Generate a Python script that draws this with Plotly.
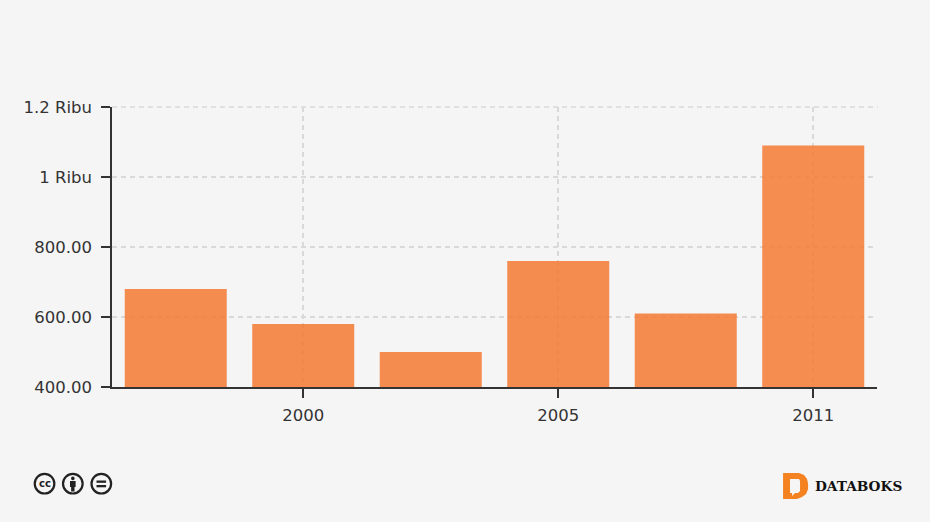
import plotly.graph_objects as go

# values; only 2000, 2005 and 2011 are labelled in the original
categories = ["a", "2000", "b", "2005", "c", "2011"]
values = [680, 580, 500, 760, 610, 1090]
x_ticks = ["2000", "2005", "2011"]
y_ticks = [400, 600, 800, 1000, 1200]
y_labels = ["400.00", "600.00", "800.00", "1 Ribu", "1.2 Ribu"]

BG = "#f5f5f5"
INK = "#333333"
ICON = "#222222"
ORANGE = "#f58220"
FONT = "DejaVu Sans"
GRID = "#d9d9d9"
DASH = "5px,4px"
W, H = 930, 522
L, R, T, B = 111.5, 877, 107, 387


def px(x):
    return (x - L) / (R - L)


def py(y):
    return (B - y) / (B - T)


def circle(cx, cy, r, **kw):
    return dict(type="circle", xref="paper", yref="paper",
                x0=px(cx - r), x1=px(cx + r), y0=py(cy + r), y1=py(cy - r), **kw)


def rect(x0, y0, x1, y1, color):
    return dict(type="rect", xref="paper", yref="paper", x0=px(x0), x1=px(x1),
                y0=py(y1), y1=py(y0), fillcolor=color, line_width=0)


def path(points, color):
    d = "M " + " L ".join(f"{px(x):.4f},{py(y):.4f}" for x, y in points) + " Z"
    return dict(type="path", xref="paper", yref="paper", path=d, fillcolor=color, line_width=0)


fig = go.Figure(go.Bar(x=categories, y=values, marker_color="#f57a33",
                       marker_line_width=0, opacity=0.85, width=0.8))

# licence icons and logo at the bottom
ring = dict(color=ICON, width=2.2)
shapes = [
    # plotly drops the grid line at the end of the range, so the top one is added here
    dict(type="line", xref="paper", yref="paper", x0=0, x1=px(878), y0=1, y1=1,
         line=dict(color=GRID, width=1.6, dash=DASH), layer="below"),
    circle(44, 483.7, 9.8, line=ring, fillcolor=BG),
    circle(72.3, 483.7, 9.8, line=ring, fillcolor=BG),
    circle(100.8, 483.7, 9.8, line=ring, fillcolor=BG),
    circle(72.3, 478.4, 1.8, line_width=0, fillcolor=ICON),
    rect(69.5, 481, 75.1, 487, ICON),
    rect(70.6, 487, 74, 491.5, ICON),
    rect(96, 480.5, 105.6, 482.8, ICON),
    rect(96, 485, 105.6, 487.3, ICON),
    path([(783, 473), (799, 473), (804, 475), (807, 479), (808, 484), (808, 489),
          (806, 494), (802, 497), (797, 499), (783, 499)], ORANGE),
    path([(790, 479), (799, 479), (800, 481), (800, 491), (798, 493), (795, 493),
          (792, 496), (792, 493), (790, 493)], BG),
]

annotations = [
    dict(text="<b>cc</b>", xref="paper", yref="paper", x=px(44), y=py(483), xanchor="center",
         yanchor="middle", showarrow=False, font=dict(family=FONT, size=10, color=ICON)),
    dict(text="<b>DATABOKS</b>", xref="paper", yref="paper", x=px(813), y=py(486), xanchor="left",
         yanchor="middle", showarrow=False, font=dict(family="DejaVu Serif", size=13.7, color="#111111")),
]

fig.update_layout(
    width=W, height=H,
    autosize=False,
    margin=dict(l=L, r=W - R, t=T, b=H - B, pad=0),
    paper_bgcolor=BG, plot_bgcolor=BG,
    font=dict(family=FONT, size=16.5, color=INK),
    showlegend=False,
    shapes=shapes,
    annotations=annotations,
)
fig.update_xaxes(
    type="category", categoryorder="array", categoryarray=categories,
    tickmode="array", tickvals=x_ticks, ticktext=x_ticks,
    ticks="outside", ticklen=9, tickwidth=1.5, tickcolor=INK,
    showline=True, linecolor=INK, linewidth=1.5,
    showgrid=True, gridcolor=GRID, griddash=DASH, gridwidth=1.6,
    ticklabelstandoff=3,
)
fig.update_yaxes(
    range=[400, 1200],
    tickmode="array", tickvals=y_ticks, ticktext=y_labels,
    ticks="outside", ticklen=9, tickwidth=1.5, tickcolor=INK,
    showline=True, linecolor=INK, linewidth=1.5,
    showgrid=True, gridcolor=GRID, griddash=DASH, gridwidth=1.6,
    zeroline=False, ticklabelstandoff=6,
)

# the page has to sit flush with the window, without the default body margin
fig.write_html("out.html", config=dict(displayModeBar=False),
               post_script="document.body.style.margin='0';document.body.style.background='#f5f5f5';")
